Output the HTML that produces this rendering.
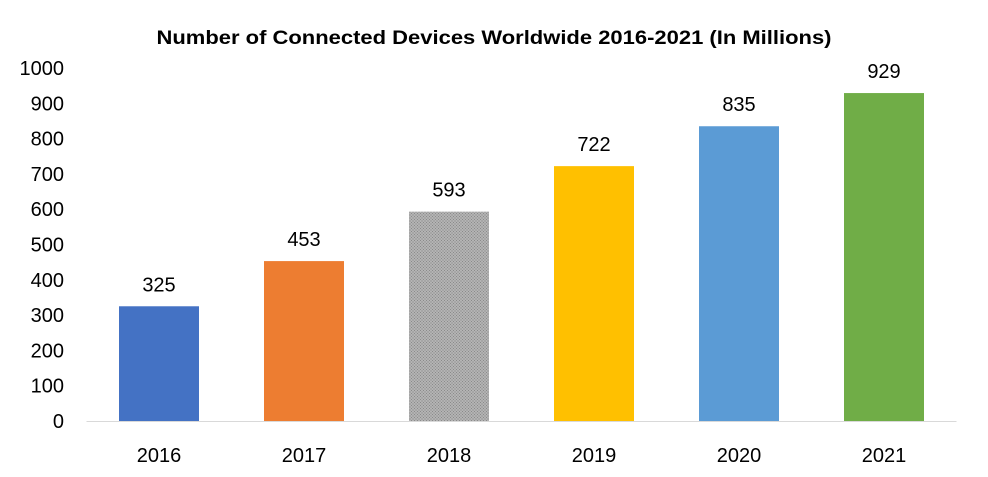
<!DOCTYPE html>
<html><head><meta charset="utf-8"><style>
html,body{margin:0;padding:0;background:#fff;}
svg{display:block;font-family:"Liberation Sans",Calibri,sans-serif;}
</style></head><body>
<svg id="chart" width="988" height="477" viewBox="0 0 988 477">
<defs>
<pattern id="dots" width="3" height="3" patternUnits="userSpaceOnUse">
<rect width="3" height="3" fill="#b4b4b4"/>
<rect width="1" height="1" fill="#8a8a8a"/>
<rect x="1.5" y="1.5" width="1" height="1" fill="#7e7e7e"/>
</pattern>
</defs>
<text x="494" y="44" text-anchor="middle" font-size="19" font-weight="bold" fill="#000" textLength="675" lengthAdjust="spacingAndGlyphs">Number of Connected Devices Worldwide 2016-2021 (In Millions)</text>
<g id="yaxis"></g>
<g id="bars"></g>
<g id="xaxis"></g>
</svg>
<script>
const categories = ["2016","2017","2018","2019","2020","2021"];
const values = [325,453,593,722,835,929];
const yTicks = [0,100,200,300,400,500,600,700,800,900,1000];
const colors = ["#4472C4","#ED7D31","url(#dots)","#FFC000","#5B9BD5","#70AD47"];

const NS="http://www.w3.org/2000/svg";
const plotL=86.5, plotR=956.5, y0=421, y1=68, yMax=1000;
const bw=(plotR-plotL)/categories.length, barW=80;
function y(v){return y0-(v/yMax)*(y0-y1);}
function xc(i){return plotL+bw*(i+0.5);}
function mk(tag,attrs,parent,text){const e=document.createElementNS(NS,tag);for(const k in attrs)e.setAttribute(k,attrs[k]);if(text!==undefined)e.textContent=text;parent.appendChild(e);return e;}

const ya=document.getElementById('yaxis');
yTicks.forEach(t=>{
  const e=mk('text',{x:64,y:y(t)+7,'text-anchor':'end','font-size':'20',fill:'#000'},ya,String(t));
  
  
});
const bg=document.getElementById('bars');
categories.forEach((c,i)=>{
  const r=mk('rect',{x:xc(i)-barW/2,y:y(values[i]),width:barW,height:y0-y(values[i]),fill:colors[i]},bg);
  
  
  const l=mk('text',{x:xc(i),y:y(values[i])-15,'text-anchor':'middle','font-size':'20',fill:'#000'},bg,String(values[i]));
  
  
});
const xa=document.getElementById('xaxis');
const ln=mk('line',{x1:plotL,x2:plotR,y1:y0+0.5,y2:y0+0.5,stroke:'#d9d9d9','stroke-width':1},xa);


categories.forEach((c,i)=>{
  const t=mk('text',{x:xc(i),y:462,'text-anchor':'middle','font-size':'20',fill:'#000'},xa,c);
  
  
});
</script>
</body></html>
